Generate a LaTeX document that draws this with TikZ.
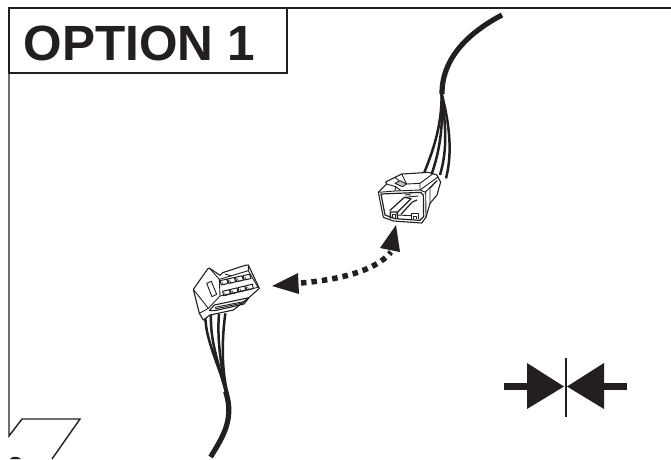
\documentclass[tikz,border=0pt]{standalone}
\usepackage{fontspec}
\setmainfont{Liberation Sans}
\definecolor{ink}{HTML}{231F20}
\tikzset{
  frameline/.style={draw=ink,line width=1.4pt,line join=miter},
  wirethick/.style={draw=ink,line width=5.2pt},
  wirethin/.style={draw=ink,line width=2.5pt},
  conn/.style={draw=ink,line width=1.1pt,fill=white,line join=round},
  det/.style={draw=ink,line width=.9pt,line join=round},
  dotline/.style={draw=ink,line width=5.5pt,dash pattern=on 5.5pt off 5pt},
  solidblack/.style={fill=ink,draw=none},
  zoomA/.style={shift={(375,160)},x=.333333pt,y=-.333333pt},
  zoomB/.style={shift={(170,250)},x=.333333pt,y=-.333333pt},
  zoomC/.style={shift={(190,310)},x=.333333pt,y=-.333333pt},
  zoomD/.style={shift={(420,0)},x=.333333pt,y=-.333333pt},
}
\begin{document}
\begin{tikzpicture}[x=1pt,y=-1pt]
\useasboundingbox (0,0) rectangle (671,459);
% frame
\draw[frameline] (9,8) -- (671,8);
\draw[frameline] (9,8) -- (9,436) -- (22,419) -- (80,419) -- (52,459);
\fill[ink] (10,459) .. controls (12,456) and (18,456) .. (21,459) -- cycle;
\draw[frameline] (9,8) rectangle (287,73);
\node[anchor=base west,inner sep=0pt,font=\fontsize{49.5}{50}\selectfont\bfseries,text=ink] (title) at (23.5,60) {OPTION 1};
% upper wires
\begin{scope}[zoomD]
\draw[wirethin] (65,280) .. controls (65,380) and (40,450) .. (10,525);
\draw[wirethin] (65,280) .. controls (70,380) and (60,450) .. (34,525);
\draw[wirethin] (65,280) .. controls (75,370) and (85,440) .. (60,525);
\draw[wirethin] (65,280) .. controls (85,360) and (100,450) .. (78,535);
\draw[wirethick] (246,45) .. controls (170,85) and (65,160) .. (66,282);
\end{scope}
% upper connector
\begin{scope}[zoomA]
\path[conn] (10,97) -- (35,72) -- (32,66) -- (60,52) -- (80,42) -- (115,40) -- (160,37) -- (186,45) -- (192,58) -- (197,66) -- (190,90) -- (186,105) -- (165,130) -- (153,172) -- (140,189) -- (55,183) -- (25,172) -- cycle;
\draw[det,line width=1.2pt] (18,102) -- (137,97) -- (145,105) -- (146,170) -- (135,181) -- (60,176) -- (30,165) -- cycle;
\draw[det] (10,97) -- (60,93) -- (135,90) -- (152,97) -- (153,172);
\draw[det] (135,90) -- (190,50);
\draw[det] (150,97) -- (186,62);
\draw[det] (60,93) -- (62,80) -- (35,72);
\draw[det] (62,80) -- (78,92);
\draw[det,fill=ink!25] (60,70) -- (75,62) -- (95,72) -- (82,80) -- cycle;
\draw[det] (60,52) -- (72,62);
\draw[det] (80,42) -- (95,72) -- (135,70) -- (135,90);
\draw[det] (135,70) -- (175,40);
\draw[det] (165,130) -- (165,85) -- (186,62);
% blades
\draw[det,line width=1.2pt] (44,152) -- (88,112) -- (108,116) -- (66,158);
\draw[det,line width=1.2pt] (78,163) -- (112,126) -- (126,120);
\draw[det] (88,112) -- (130,108);
\draw[det] (90,105) -- (105,103) -- (105,108);
% terminals
\draw[det,line width=1.4pt] (46,176) -- (46,156) -- (66,156) -- (68,176);
\draw[det] (53,175) -- (53,164) -- (60,164) -- (60,175);
\draw[det,line width=1.4pt] (110,178) -- (110,160) -- (130,160) -- (130,178);
\draw[det] (116,178) -- (116,168) -- (124,168) -- (124,178);
\draw[det] (66,165) -- (110,167);
\end{scope}
% lower wires
\begin{scope}[zoomC]
\draw[wirethin] (46,15) .. controls (45,90) and (90,170) .. (108,248);
\draw[wirethin] (63,15) .. controls (60,100) and (90,170) .. (108,248);
\draw[wirethin] (87,12) .. controls (80,90) and (95,180) .. (110,248);
\draw[wirethin] (106,10) .. controls (95,90) and (95,180) .. (112,248);
\draw[wirethick] (62,441) .. controls (95,385) and (135,330) .. (107,245);
\end{scope}
% lower connector
\begin{scope}[zoomB]
\path[conn] (70,118) -- (113,57) -- (118,54) -- (150,76) -- (158,68) -- (225,46) -- (235,45) -- (268,115) -- (240,140) -- (190,180) -- (120,195) -- (100,210) -- (88,190) -- cycle;
\draw[det] (118,54) -- (148,88) -- (235,62) -- (235,45);
\draw[det] (235,62) -- (264,112) -- (150,138);
\draw[det] (148,88) -- (150,138) -- (115,175) -- (88,190);
\draw[det] (70,118) -- (115,175);
\draw[det] (110,100) -- (124,94) -- (140,133) -- (126,140) -- cycle;
\draw[det] (165,72) -- (185,78);
% slot
\draw[det,line width=1.1pt] (118,182) -- (133,165) -- (237,143) -- (222,162) -- (135,182) -- cycle;
\draw[det] (135,172) -- (225,154);
\draw[det] (135,177) -- (222,158);
% pins
\foreach \i in {0,1,2,3}{
  \draw[det,line width=1pt] ({150+\i*23},{92-\i*5}) -- ++(20,-4.5) -- ++(4,13) -- ++(-20,4.5) -- cycle;
  \draw[det,line width=1pt] ({158+\i*23},{124-\i*5.5}) -- ++(20,-5) -- ++(3,13) -- ++(-20,5) -- cycle;
  \draw[det,line width=.6pt] ({156+\i*23},{96-\i*5}) -- ++(4,8) -- ++(6,-1.5);
  \draw[det,line width=.6pt] ({164+\i*23},{128-\i*5.5}) -- ++(3,8) -- ++(6,-1.5);
}
\end{scope}
% double arrow
\coordinate (arrowL) at (301,283);
\coordinate (arrowR) at (391,252);
\coordinate (tipL) at (272,286);
\coordinate (tipR) at (396,225);
\draw[dotline] (arrowL) .. controls (335,280) and (375,272) .. (arrowR);
\path[solidblack] (tipL) -- (298,273) -- (299,294) -- cycle;
\path[solidblack] (tipR) -- (380,248) -- (400,252) -- cycle;
% symbol
\coordinate (symC) at (566,387);
\path[solidblack] (504,382.5) rectangle (527,390);
\path[solidblack] (527,363) -- (564,386.5) -- (527,409) -- cycle;
\path[solidblack] (604,382.5) rectangle (627,390);
\path[solidblack] (604,363) -- (567,386.5) -- (604,409) -- cycle;
\draw[draw=ink,line width=2.4pt] (565.7,358) -- (565.7,417);
\end{tikzpicture}
\end{document}
